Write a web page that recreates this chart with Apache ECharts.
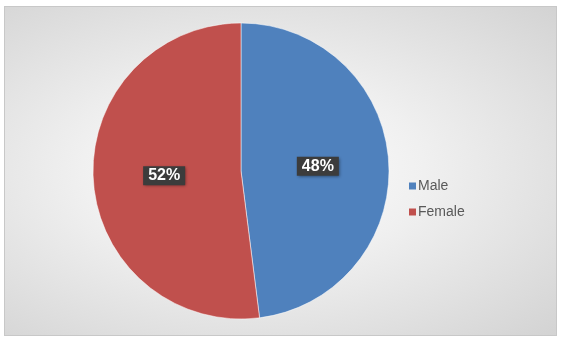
<!DOCTYPE html>
<html>
<head>
<meta charset="utf-8">
<script src="https://cdn.jsdelivr.net/npm/echarts@6/dist/echarts.min.js"></script>
<style>
  html, body { margin: 0; padding: 0; background: #fff; }
  #wrap { position: relative; width: 562px; height: 341px; }
  #frame {
    position: absolute; left: 4px; top: 6px; width: 551px; height: 328px;
    border: 1px solid #c8c8c8;
    background: radial-gradient(ellipse at 45% 50%, #ffffff 0%, #f0f0f0 40%, #d3d3d3 100%);
  }
  #chart { position: absolute; left: 0; top: 0; width: 562px; height: 341px; }
</style>
</head>
<body>
<div id="wrap">
  <div id="frame"></div>
  <div id="chart"></div>
</div>
<script>
const categories = ['Male', 'Female'];
const shares = [48, 52];
const colors = ['#4F81BD', '#C0504D'];

const chart = echarts.init(document.getElementById('chart'));

chart.setOption({
  animation: false,
  color: colors,
  legend: {
    orient: 'vertical',
    left: 404,
    top: 174,
    itemWidth: 7,
    itemHeight: 7,
    itemGap: 12,
    icon: 'rect',
    data: categories,
    itemStyle: { borderWidth: 0 },
    textStyle: {
      fontFamily: 'Liberation Sans, Arial, sans-serif',
      fontSize: 14,
      color: '#595959',
      padding: [0, 0, 0, -3],
    },
  },
  series: [
    {
      type: 'pie',
      center: [241, 171],
      radius: 148,
      startAngle: 90,
      clockwise: true,
      silent: true,
      data: categories.map((name, i) => ({ name, value: shares[i] })),
      itemStyle: {
        borderColor: '#ffffff',
        borderWidth: 0.5,
      },
      label: {
        show: true,
        position: 'inside',
        formatter: (p) => `${p.value}%`,
        color: '#ffffff',
        fontFamily: 'Liberation Sans, Arial, sans-serif',
        fontWeight: 'bold',
        fontSize: 16,
        backgroundColor: '#3c3c3c',
        padding: [2, 5, 1, 5],
        shadowColor: 'rgba(0,0,0,0.45)',
        shadowBlur: 3,
        shadowOffsetX: 1,
        shadowOffsetY: 1,
      },
      labelLine: { show: false },
    },
  ],
});
</script>
</body>
</html>
